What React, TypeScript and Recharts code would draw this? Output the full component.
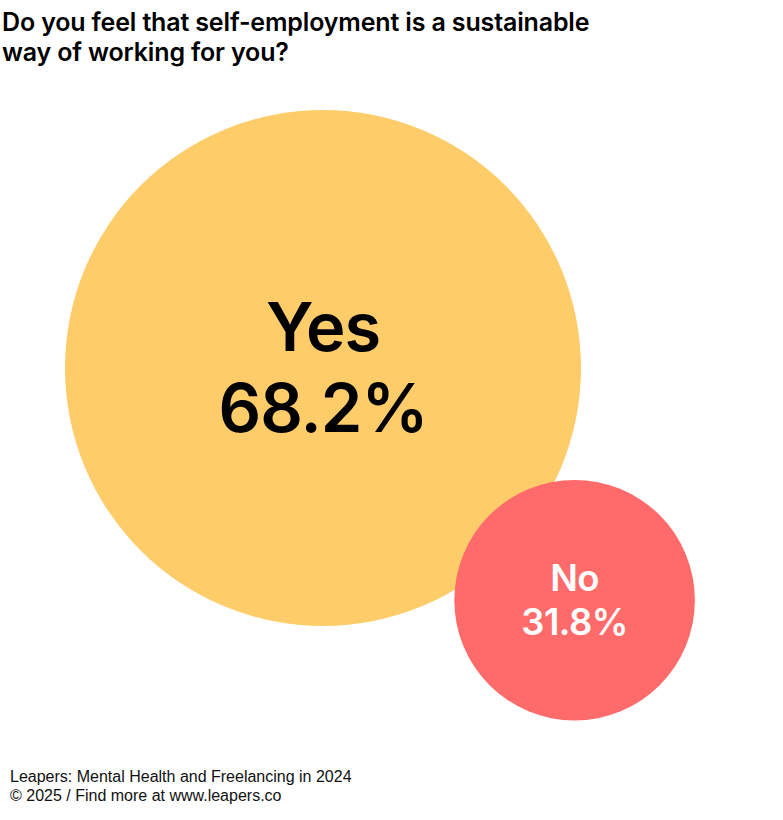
import React from 'react';
import { ScatterChart, Scatter, XAxis, YAxis, ZAxis, Cell } from 'recharts';

const answers = ['Yes', 'No'];
const shares = [68.2, 31.8];
const colors = ['#FFCC6A', '#FF6B6B'];
const textColors = ['#000000', '#FFFFFF'];

const W = 783;
const H = 820;
const MAX_R = 258;
// packing of the second bubble against the first one
const BIG_CENTER = { x: 323, y: 368 };
const PACK_ANGLE = (42.7 * Math.PI) / 180;
const PACK_OVERLAP = 0.905;

const radiusOf = (v: number) => (MAX_R * v) / Math.max(...shares);

const data = answers.map((name, i) => {
  if (i === 0) return { name, value: shares[i], x: BIG_CENTER.x, y: BIG_CENTER.y };
  const d = (radiusOf(shares[0]) + radiusOf(shares[i])) * PACK_OVERLAP;
  return {
    name,
    value: shares[i],
    x: BIG_CENTER.x + d * Math.cos(PACK_ANGLE),
    y: BIG_CENTER.y + d * Math.sin(PACK_ANGLE),
  };
});

const Bubble = (props: any) => {
  const { cx, cy, size, width, fill, payload, index } = props;
  const r = size ? Math.sqrt(size / Math.PI) : width / 2;
  const fs = 10 + r * 0.22;
  const color = textColors[index ?? answers.indexOf(payload.name)];
  const font = {
    fontFamily: 'Inter, sans-serif',
    fontWeight: 600,
    fontSize: fs,
    fill: color,
    letterSpacing: -fs * 0.015,
  };
  return (
    <g>
      <circle cx={cx} cy={cy} r={r} fill={fill} />
      <text x={cx} y={cy - fs * 0.61 + fs * 0.36} textAnchor="middle" style={font}>
        {payload.name}
      </text>
      <text x={cx} y={cy + fs * 0.6 + fs * 0.36} textAnchor="middle" style={font}>
        {`${payload.value.toFixed(1)}%`}
      </text>
    </g>
  );
};

export default function App() {
  return (
    <div style={{ position: 'absolute', left: 0, top: 0, width: W, height: H, background: '#fff' }}>
      <div
        style={{
          position: 'absolute',
          left: 2,
          top: 7,
          fontFamily: 'Inter, sans-serif',
          fontWeight: 600,
          fontSize: 25,
          lineHeight: '30px',
          letterSpacing: -0.15,
          color: '#000',
          zIndex: 1,
        }}
      >
        Do you feel that self-employment is a sustainable
        <br />
        way of working for you?
      </div>
      <ScatterChart width={W} height={H} margin={{ top: 0, right: 0, bottom: 0, left: 0 }}>
        <XAxis type="number" dataKey="x" domain={[0, W]} hide />
        <YAxis type="number" dataKey="y" domain={[0, H]} reversed hide />
        <ZAxis
          type="number"
          dataKey={(d: any) => d.value * d.value}
          domain={[0, 'dataMax']}
          range={[0, Math.PI * MAX_R * MAX_R]}
        />
        <Scatter data={data} shape={<Bubble />} isAnimationActive={false}>
          {data.map((d, i) => (
            <Cell key={d.name} fill={colors[i]} />
          ))}
        </Scatter>
      </ScatterChart>
      <div
        style={{
          position: 'absolute',
          left: 10,
          top: 767,
          fontFamily: '"Liberation Sans", Arial, sans-serif',
          fontSize: 16,
          lineHeight: '19px',
          color: '#111',
        }}
      >
        Leapers: Mental Health and Freelancing in 2024
        <br />© 2025 / Find more at www.leapers.co
      </div>
    </div>
  );
}
